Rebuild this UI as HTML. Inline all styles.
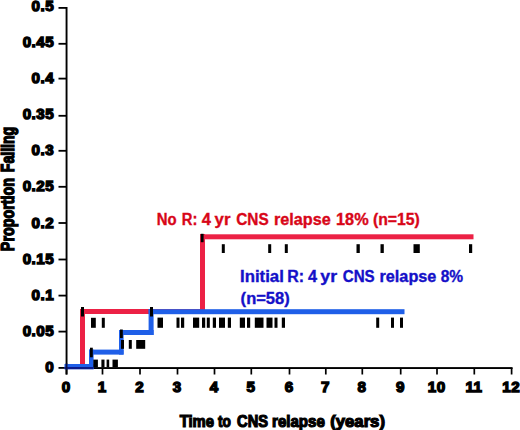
<!DOCTYPE html>
<html><head><meta charset="utf-8"><style>
html,body{margin:0;padding:0;background:#fff;width:520px;height:430px;overflow:hidden}
svg{display:block}
text{font-family:"Liberation Sans",sans-serif;font-weight:bold}
.num{fill:#000;stroke:#000;stroke-width:1.35px}
.ttl{fill:#000;stroke:#000;stroke-width:1.2px}
.rt{stroke:#d80618;stroke-width:0.35px}
.bt{stroke:#1410c8;stroke-width:0.35px}
</style></head><body>
<svg width="520" height="430" viewBox="0 0 520 430">
<rect x="0" y="0" width="520" height="430" fill="#fff"/>
<rect x="65.60" y="7.00" width="1.90" height="367.50" fill="#000"/>
<rect x="65.60" y="367.10" width="447.00" height="1.90" fill="#000"/>
<rect x="58.50" y="7.00" width="8.00" height="1.80" fill="#000"/>
<rect x="58.50" y="42.90" width="8.00" height="1.80" fill="#000"/>
<rect x="58.50" y="77.70" width="8.00" height="1.80" fill="#000"/>
<rect x="58.50" y="114.90" width="8.00" height="1.80" fill="#000"/>
<rect x="58.50" y="149.90" width="8.00" height="1.80" fill="#000"/>
<rect x="58.50" y="185.90" width="8.00" height="1.80" fill="#000"/>
<rect x="58.50" y="222.10" width="8.00" height="1.80" fill="#000"/>
<rect x="58.50" y="258.60" width="8.00" height="1.80" fill="#000"/>
<rect x="58.50" y="294.70" width="8.00" height="1.80" fill="#000"/>
<rect x="58.50" y="330.70" width="8.00" height="1.80" fill="#000"/>
<rect x="58.50" y="367.00" width="8.00" height="1.80" fill="#000"/>
<rect x="65.65" y="368.00" width="1.70" height="6.50" fill="#000"/>
<rect x="101.65" y="368.00" width="1.70" height="6.50" fill="#000"/>
<rect x="139.15" y="368.00" width="1.70" height="6.50" fill="#000"/>
<rect x="176.65" y="368.00" width="1.70" height="6.50" fill="#000"/>
<rect x="213.65" y="368.00" width="1.70" height="6.50" fill="#000"/>
<rect x="250.45" y="368.00" width="1.70" height="6.50" fill="#000"/>
<rect x="288.65" y="368.00" width="1.70" height="6.50" fill="#000"/>
<rect x="324.95" y="368.00" width="1.70" height="6.50" fill="#000"/>
<rect x="361.45" y="368.00" width="1.70" height="6.50" fill="#000"/>
<rect x="399.85" y="368.00" width="1.70" height="6.50" fill="#000"/>
<rect x="436.15" y="368.00" width="1.70" height="6.50" fill="#000"/>
<rect x="473.45" y="368.00" width="1.70" height="6.50" fill="#000"/>
<rect x="510.75" y="368.00" width="1.70" height="6.50" fill="#000"/>
<rect x="80.00" y="309.00" width="5.00" height="57.00" fill="#ec2145"/>
<rect x="80.00" y="309.00" width="125.00" height="5.00" fill="#ec2145"/>
<rect x="200.00" y="234.00" width="5.00" height="80.00" fill="#ec2145"/>
<rect x="200.00" y="234.30" width="273.50" height="5.00" fill="#ec2145"/>
<rect x="64.50" y="364.00" width="29.10" height="5.20" fill="#1f5fe8"/>
<rect x="89.00" y="349.60" width="4.60" height="19.40" fill="#1f5fe8"/>
<rect x="89.00" y="349.60" width="34.60" height="5.00" fill="#1f5fe8"/>
<rect x="119.00" y="330.00" width="4.60" height="24.60" fill="#1f5fe8"/>
<rect x="119.00" y="330.00" width="34.60" height="5.00" fill="#1f5fe8"/>
<rect x="148.60" y="309.20" width="5.00" height="25.80" fill="#1f5fe8"/>
<rect x="148.60" y="309.20" width="255.90" height="5.00" fill="#1f5fe8"/>
<rect x="64.50" y="367.00" width="29.10" height="2.20" fill="#0a1a8a"/>
<rect x="65.60" y="363.50" width="1.90" height="5.70" fill="#0a0f40"/>
<rect x="81.00" y="307.00" width="3.00" height="9.50" fill="#000"/>
<rect x="90.00" y="347.70" width="2.80" height="9.60" fill="#000"/>
<rect x="120.00" y="329.50" width="2.80" height="8.50" fill="#000"/>
<rect x="150.00" y="307.00" width="3.00" height="9.50" fill="#000"/>
<rect x="200.80" y="233.80" width="2.80" height="8.40" fill="#000"/>
<rect x="91.00" y="317.80" width="4.80" height="10.00" fill="#000"/>
<rect x="101.80" y="317.80" width="3.00" height="10.00" fill="#000"/>
<rect x="221.80" y="244.20" width="3.00" height="8.80" fill="#000"/>
<rect x="268.20" y="244.20" width="3.00" height="8.80" fill="#000"/>
<rect x="284.80" y="244.20" width="3.00" height="8.80" fill="#000"/>
<rect x="356.50" y="244.20" width="3.30" height="8.80" fill="#000"/>
<rect x="380.50" y="244.20" width="3.30" height="8.80" fill="#000"/>
<rect x="413.50" y="244.20" width="6.30" height="8.80" fill="#000"/>
<rect x="469.00" y="244.20" width="3.20" height="8.80" fill="#000"/>
<rect x="93.30" y="359.60" width="4.60" height="7.70" fill="#000"/>
<rect x="101.40" y="359.60" width="3.10" height="7.70" fill="#000"/>
<rect x="106.60" y="359.60" width="2.60" height="7.70" fill="#000"/>
<rect x="112.50" y="359.60" width="5.40" height="7.70" fill="#000"/>
<rect x="121.00" y="340.00" width="3.00" height="8.80" fill="#000"/>
<rect x="128.80" y="340.00" width="3.00" height="8.80" fill="#000"/>
<rect x="136.20" y="340.00" width="9.00" height="8.80" fill="#000"/>
<rect x="157.50" y="317.60" width="5.50" height="10.20" fill="#000"/>
<rect x="176.50" y="317.60" width="3.00" height="10.20" fill="#000"/>
<rect x="181.00" y="317.60" width="3.20" height="10.20" fill="#000"/>
<rect x="193.00" y="317.60" width="6.20" height="10.20" fill="#000"/>
<rect x="202.00" y="317.60" width="3.20" height="10.20" fill="#000"/>
<rect x="206.80" y="317.60" width="3.00" height="10.20" fill="#000"/>
<rect x="212.80" y="317.60" width="3.20" height="10.20" fill="#000"/>
<rect x="219.00" y="317.60" width="6.00" height="10.20" fill="#000"/>
<rect x="227.80" y="317.60" width="3.20" height="10.20" fill="#000"/>
<rect x="239.80" y="317.60" width="5.20" height="10.20" fill="#000"/>
<rect x="247.00" y="317.60" width="3.20" height="10.20" fill="#000"/>
<rect x="254.80" y="317.60" width="8.70" height="10.20" fill="#000"/>
<rect x="266.50" y="317.60" width="6.00" height="10.20" fill="#000"/>
<rect x="274.50" y="317.60" width="3.00" height="10.20" fill="#000"/>
<rect x="281.80" y="317.60" width="3.20" height="10.20" fill="#000"/>
<rect x="376.20" y="317.60" width="3.00" height="10.20" fill="#000"/>
<rect x="391.00" y="317.60" width="3.00" height="10.20" fill="#000"/>
<rect x="400.00" y="317.60" width="3.00" height="10.20" fill="#000"/>
<text x="54.2" y="10.7" text-anchor="end" font-size="15.2" letter-spacing="0.5" class="num">0.5</text>
<text x="54.2" y="46.9" text-anchor="end" font-size="15.2" letter-spacing="0.5" class="num">0.45</text>
<text x="54.2" y="83.0" text-anchor="end" font-size="15.2" letter-spacing="0.5" class="num">0.4</text>
<text x="54.2" y="119.1" text-anchor="end" font-size="15.2" letter-spacing="0.5" class="num">0.35</text>
<text x="54.2" y="155.3" text-anchor="end" font-size="15.2" letter-spacing="0.5" class="num">0.3</text>
<text x="54.2" y="191.4" text-anchor="end" font-size="15.2" letter-spacing="0.5" class="num">0.25</text>
<text x="54.2" y="227.6" text-anchor="end" font-size="15.2" letter-spacing="0.5" class="num">0.2</text>
<text x="54.2" y="263.8" text-anchor="end" font-size="15.2" letter-spacing="0.5" class="num">0.15</text>
<text x="54.2" y="299.9" text-anchor="end" font-size="15.2" letter-spacing="0.5" class="num">0.1</text>
<text x="54.2" y="336.1" text-anchor="end" font-size="15.2" letter-spacing="0.5" class="num">0.05</text>
<text x="54.2" y="372.2" text-anchor="end" font-size="15.2" letter-spacing="0.5" class="num">0</text>
<text x="66.2" y="391.8" text-anchor="middle" font-size="15.2" letter-spacing="0.5" class="num">0</text>
<text x="102.2" y="391.8" text-anchor="middle" font-size="15.2" letter-spacing="0.5" class="num">1</text>
<text x="139.7" y="391.8" text-anchor="middle" font-size="15.2" letter-spacing="0.5" class="num">2</text>
<text x="177.2" y="391.8" text-anchor="middle" font-size="15.2" letter-spacing="0.5" class="num">3</text>
<text x="214.2" y="391.8" text-anchor="middle" font-size="15.2" letter-spacing="0.5" class="num">4</text>
<text x="251.0" y="391.8" text-anchor="middle" font-size="15.2" letter-spacing="0.5" class="num">5</text>
<text x="289.2" y="391.8" text-anchor="middle" font-size="15.2" letter-spacing="0.5" class="num">6</text>
<text x="325.5" y="391.8" text-anchor="middle" font-size="15.2" letter-spacing="0.5" class="num">7</text>
<text x="362.0" y="391.8" text-anchor="middle" font-size="15.2" letter-spacing="0.5" class="num">8</text>
<text x="400.4" y="391.8" text-anchor="middle" font-size="15.2" letter-spacing="0.5" class="num">9</text>
<text x="436.7" y="391.8" text-anchor="middle" font-size="15.2" letter-spacing="0.5" class="num">10</text>
<text x="474.0" y="391.8" text-anchor="middle" font-size="15.2" letter-spacing="0.5" class="num">11</text>
<text x="511.3" y="391.8" text-anchor="middle" font-size="15.2" letter-spacing="0.5" class="num">12</text>
<text x="156.73" y="224.8" font-size="16" fill="#d80618" class="rt" textLength="19.83" lengthAdjust="spacingAndGlyphs">No</text>
<text x="181.78" y="224.8" font-size="16" fill="#d80618" class="rt" textLength="15.58" lengthAdjust="spacingAndGlyphs">R:</text>
<text x="201.88" y="224.8" font-size="16" fill="#d80618" class="rt" textLength="9.16" lengthAdjust="spacingAndGlyphs">4</text>
<text x="214.59" y="224.8" font-size="16" fill="#d80618" class="rt" textLength="15.82" lengthAdjust="spacingAndGlyphs">yr</text>
<text x="236.20" y="224.8" font-size="16" fill="#d80618" class="rt" textLength="32.44" lengthAdjust="spacingAndGlyphs">CNS</text>
<text x="273.95" y="224.8" font-size="16" fill="#d80618" class="rt" textLength="56.70" lengthAdjust="spacingAndGlyphs">relapse</text>
<text x="336.05" y="224.8" font-size="16" fill="#d80618" class="rt" textLength="32.56" lengthAdjust="spacingAndGlyphs">18%</text>
<text x="372.95" y="224.8" font-size="16" fill="#d80618" class="rt" textLength="46.88" lengthAdjust="spacingAndGlyphs">(n=15)</text>
<text x="240.04" y="281.7" font-size="16" fill="#1410c8" class="bt" textLength="43.83" lengthAdjust="spacingAndGlyphs">Initial</text>
<text x="287.33" y="281.7" font-size="16" fill="#1410c8" class="bt" textLength="16.82" lengthAdjust="spacingAndGlyphs">R:</text>
<text x="308.06" y="281.7" font-size="16" fill="#1410c8" class="bt" textLength="9.04" lengthAdjust="spacingAndGlyphs">4</text>
<text x="320.36" y="281.7" font-size="16" fill="#1410c8" class="bt" textLength="16.73" lengthAdjust="spacingAndGlyphs">yr</text>
<text x="342.75" y="281.7" font-size="16" fill="#1410c8" class="bt" textLength="31.92" lengthAdjust="spacingAndGlyphs">CNS</text>
<text x="379.57" y="281.7" font-size="16" fill="#1410c8" class="bt" textLength="56.74" lengthAdjust="spacingAndGlyphs">relapse</text>
<text x="440.74" y="281.7" font-size="16" fill="#1410c8" class="bt" textLength="22.44" lengthAdjust="spacingAndGlyphs">8%</text>
<text x="240.63" y="304.1" font-size="16" fill="#1410c8" class="bt" textLength="49.12" lengthAdjust="spacingAndGlyphs">(n=58)</text>
<text x="179.68" y="426.6" font-size="16" class="ttl" textLength="34.23" lengthAdjust="spacingAndGlyphs">Time</text>
<text x="217.91" y="426.6" font-size="16" class="ttl" textLength="12.89" lengthAdjust="spacingAndGlyphs">to</text>
<text x="237.09" y="426.6" font-size="16" class="ttl" textLength="30.85" lengthAdjust="spacingAndGlyphs">CNS</text>
<text x="272.08" y="426.6" font-size="16" class="ttl" textLength="52.72" lengthAdjust="spacingAndGlyphs">relapse</text>
<text x="330.29" y="426.6" font-size="16" class="ttl" textLength="54.66" lengthAdjust="spacingAndGlyphs">(years)</text>
<g transform="translate(14.2,0) rotate(-90) scale(1,1.12)">
<text x="-251.16" y="0" font-size="16" class="ttl" textLength="73.23" lengthAdjust="spacingAndGlyphs">Proportion</text>
<text x="-172.16" y="0" font-size="16" class="ttl" textLength="45.37" lengthAdjust="spacingAndGlyphs">Failing</text>
</g>
</svg>
</body></html>
